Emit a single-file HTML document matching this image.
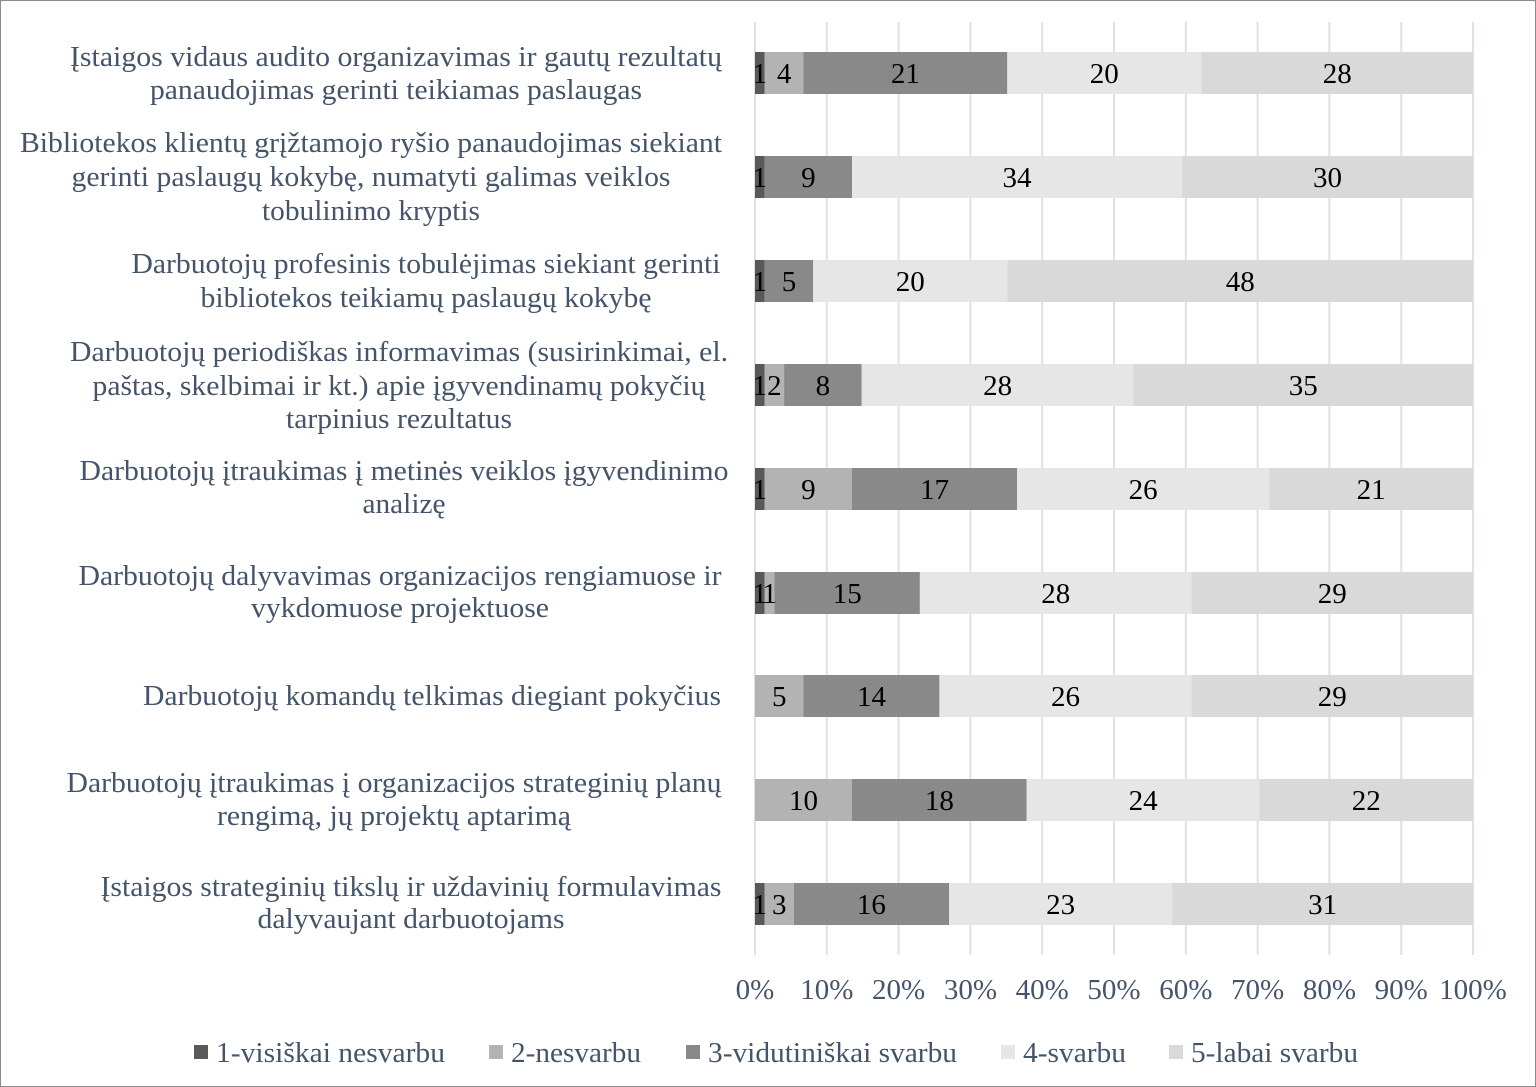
<!DOCTYPE html>
<html><head><meta charset="utf-8"><style>
html,body{margin:0;padding:0;background:#fff}
svg{display:block}
.l{font-family:"Liberation Serif",serif;font-size:28px;fill:#44546a}
.t{font-family:"Liberation Serif",serif;font-size:29px;fill:#44546a}
.d{font-family:"Liberation Serif",serif;font-size:29px;fill:#000}
</style></head><body>
<svg width="1536" height="1087" viewBox="0 0 1536 1087" xmlns="http://www.w3.org/2000/svg">
<rect x="0.5" y="0.5" width="1535" height="1086" fill="#fff" stroke="#8c8c8c"/>
<g stroke="#dde1ea" stroke-width="2">
<line x1="755" y1="22" x2="755" y2="955"/><line x1="826.8" y1="22" x2="826.8" y2="955"/><line x1="898.6" y1="22" x2="898.6" y2="955"/><line x1="970.4" y1="22" x2="970.4" y2="955"/><line x1="1042.2" y1="22" x2="1042.2" y2="955"/><line x1="1114" y1="22" x2="1114" y2="955"/><line x1="1185.8" y1="22" x2="1185.8" y2="955"/><line x1="1257.6" y1="22" x2="1257.6" y2="955"/><line x1="1329.4" y1="22" x2="1329.4" y2="955"/><line x1="1401.2" y1="22" x2="1401.2" y2="955"/><line x1="1473" y1="22" x2="1473" y2="955"/>
</g>
<g>
<rect x="755" y="52" width="9.7" height="42" fill="#595959"/><rect x="764.7" y="52" width="38.8" height="42" fill="#b3b3b3"/><rect x="803.5" y="52" width="203.8" height="42" fill="#898989"/><rect x="1007.3" y="52" width="194" height="42" fill="#e6e6e6"/><rect x="1201.3" y="52" width="271.7" height="42" fill="#d9d9d9"/>
<rect x="755" y="156" width="9.7" height="42" fill="#595959"/><rect x="764.7" y="156" width="87.3" height="42" fill="#898989"/><rect x="852" y="156" width="329.9" height="42" fill="#e6e6e6"/><rect x="1181.9" y="156" width="291.1" height="42" fill="#d9d9d9"/>
<rect x="755" y="260" width="9.7" height="42" fill="#595959"/><rect x="764.7" y="260" width="48.5" height="42" fill="#898989"/><rect x="813.2" y="260" width="194.1" height="42" fill="#e6e6e6"/><rect x="1007.3" y="260" width="465.7" height="42" fill="#d9d9d9"/>
<rect x="755" y="364" width="9.7" height="42" fill="#595959"/><rect x="764.7" y="364" width="19.4" height="42" fill="#b3b3b3"/><rect x="784.1" y="364" width="77.6" height="42" fill="#898989"/><rect x="861.7" y="364" width="271.7" height="42" fill="#e6e6e6"/><rect x="1133.4" y="364" width="339.6" height="42" fill="#d9d9d9"/>
<rect x="755" y="468" width="9.7" height="42" fill="#595959"/><rect x="764.7" y="468" width="87.3" height="42" fill="#b3b3b3"/><rect x="852" y="468" width="165" height="42" fill="#898989"/><rect x="1017" y="468" width="252.2" height="42" fill="#e6e6e6"/><rect x="1269.2" y="468" width="203.8" height="42" fill="#d9d9d9"/>
<rect x="755" y="572" width="9.7" height="42" fill="#595959"/><rect x="764.7" y="572" width="9.7" height="42" fill="#b3b3b3"/><rect x="774.4" y="572" width="145.5" height="42" fill="#898989"/><rect x="919.9" y="572" width="271.7" height="42" fill="#e6e6e6"/><rect x="1191.6" y="572" width="281.4" height="42" fill="#d9d9d9"/>
<rect x="755" y="675" width="48.5" height="42" fill="#b3b3b3"/><rect x="803.5" y="675" width="135.9" height="42" fill="#898989"/><rect x="939.4" y="675" width="252.2" height="42" fill="#e6e6e6"/><rect x="1191.6" y="675" width="281.4" height="42" fill="#d9d9d9"/>
<rect x="755" y="779" width="97" height="42" fill="#b3b3b3"/><rect x="852" y="779" width="174.7" height="42" fill="#898989"/><rect x="1026.7" y="779" width="232.8" height="42" fill="#e6e6e6"/><rect x="1259.5" y="779" width="213.5" height="42" fill="#d9d9d9"/>
<rect x="755" y="883" width="9.7" height="42" fill="#595959"/><rect x="764.7" y="883" width="29.1" height="42" fill="#b3b3b3"/><rect x="793.8" y="883" width="155.2" height="42" fill="#898989"/><rect x="949" y="883" width="223.2" height="42" fill="#e6e6e6"/><rect x="1172.2" y="883" width="300.8" height="42" fill="#d9d9d9"/>
</g>
<g class="d" text-anchor="middle">
<text x="759.8" y="83">1</text><text x="784.1" y="83">4</text><text x="905.4" y="83">21</text><text x="1104.3" y="83">20</text><text x="1337.2" y="83">28</text>
<text x="759.8" y="187">1</text><text x="808.4" y="187">9</text><text x="1017" y="187">34</text><text x="1327.5" y="187">30</text>
<text x="759.8" y="291">1</text><text x="789" y="291">5</text><text x="910.3" y="291">20</text><text x="1240.2" y="291">48</text>
<text x="759.8" y="395">1</text><text x="774.4" y="395">2</text><text x="822.9" y="395">8</text><text x="997.6" y="395">28</text><text x="1303.2" y="395">35</text>
<text x="759.8" y="499">1</text><text x="808.4" y="499">9</text><text x="934.5" y="499">17</text><text x="1143.1" y="499">26</text><text x="1371.1" y="499">21</text>
<text x="759.8" y="603">1</text><text x="769.6" y="603">1</text><text x="847.2" y="603">15</text><text x="1055.8" y="603">28</text><text x="1332.3" y="603">29</text>
<text x="779.3" y="706">5</text><text x="871.5" y="706">14</text><text x="1065.5" y="706">26</text><text x="1332.3" y="706">29</text>
<text x="803.5" y="810">10</text><text x="939.4" y="810">18</text><text x="1143.1" y="810">24</text><text x="1366.3" y="810">22</text>
<text x="759.8" y="914">1</text><text x="779.3" y="914">3</text><text x="871.4" y="914">16</text><text x="1060.6" y="914">23</text><text x="1322.6" y="914">31</text>
</g>
<g class="l" text-anchor="middle">
<text x="396" y="66" textLength="652" lengthAdjust="spacingAndGlyphs">Įstaigos vidaus audito organizavimas ir gautų rezultatų</text>
<text x="396" y="99" textLength="492" lengthAdjust="spacingAndGlyphs">panaudojimas gerinti teikiamas paslaugas</text>
<text x="371" y="152" textLength="702" lengthAdjust="spacingAndGlyphs">Bibliotekos klientų grįžtamojo ryšio panaudojimas siekiant</text>
<text x="371" y="186" textLength="599" lengthAdjust="spacingAndGlyphs">gerinti paslaugų kokybę, numatyti galimas veiklos</text>
<text x="371" y="220" textLength="218" lengthAdjust="spacingAndGlyphs">tobulinimo kryptis</text>
<text x="426" y="273" textLength="589" lengthAdjust="spacingAndGlyphs">Darbuotojų profesinis tobulėjimas siekiant gerinti</text>
<text x="426" y="307" textLength="451" lengthAdjust="spacingAndGlyphs">bibliotekos teikiamų paslaugų kokybę</text>
<text x="399" y="361" textLength="658" lengthAdjust="spacingAndGlyphs">Darbuotojų periodiškas informavimas (susirinkimai, el.</text>
<text x="399" y="395" textLength="613" lengthAdjust="spacingAndGlyphs">paštas, skelbimai ir kt.) apie įgyvendinamų pokyčių</text>
<text x="399" y="428" textLength="226" lengthAdjust="spacingAndGlyphs">tarpinius rezultatus</text>
<text x="404" y="480" textLength="649" lengthAdjust="spacingAndGlyphs">Darbuotojų įtraukimas į metinės veiklos įgyvendinimo</text>
<text x="404" y="513" textLength="83" lengthAdjust="spacingAndGlyphs">analizę</text>
<text x="400" y="585" textLength="643" lengthAdjust="spacingAndGlyphs">Darbuotojų dalyvavimas organizacijos rengiamuose ir</text>
<text x="400" y="617" textLength="298" lengthAdjust="spacingAndGlyphs">vykdomuose projektuose</text>
<text x="432" y="705" textLength="578" lengthAdjust="spacingAndGlyphs">Darbuotojų komandų telkimas diegiant pokyčius</text>
<text x="394" y="792" textLength="655" lengthAdjust="spacingAndGlyphs">Darbuotojų įtraukimas į organizacijos strateginių planų</text>
<text x="394" y="825" textLength="354" lengthAdjust="spacingAndGlyphs">rengimą, jų projektų aptarimą</text>
<text x="411" y="896" textLength="621" lengthAdjust="spacingAndGlyphs">Įstaigos strateginių tikslų ir uždavinių formulavimas</text>
<text x="411" y="928" textLength="307" lengthAdjust="spacingAndGlyphs">dalyvaujant darbuotojams</text>
</g>
<g class="t" text-anchor="middle">
<text x="755" y="999">0%</text><text x="826.8" y="999">10%</text><text x="898.6" y="999">20%</text><text x="970.4" y="999">30%</text><text x="1042.2" y="999">40%</text><text x="1114" y="999">50%</text><text x="1185.8" y="999">60%</text><text x="1257.6" y="999">70%</text><text x="1329.4" y="999">80%</text><text x="1401.2" y="999">90%</text><text x="1473" y="999">100%</text>
</g>
<g class="t">
<rect x="194" y="1045" width="14" height="14" fill="#595959"/><text x="216" y="1062" textLength="229" lengthAdjust="spacingAndGlyphs">1-visiškai nesvarbu</text>
<rect x="489" y="1045" width="14" height="14" fill="#b3b3b3"/><text x="511" y="1062" textLength="130" lengthAdjust="spacingAndGlyphs">2-nesvarbu</text>
<rect x="686" y="1045" width="14" height="14" fill="#898989"/><text x="708" y="1062" textLength="249" lengthAdjust="spacingAndGlyphs">3-vidutiniškai svarbu</text>
<rect x="1001" y="1045" width="14" height="14" fill="#e6e6e6"/><text x="1023" y="1062" textLength="103" lengthAdjust="spacingAndGlyphs">4-svarbu</text>
<rect x="1169" y="1045" width="14" height="14" fill="#d9d9d9"/><text x="1191" y="1062" textLength="167" lengthAdjust="spacingAndGlyphs">5-labai svarbu</text>
</g>
</svg>
</body></html>
